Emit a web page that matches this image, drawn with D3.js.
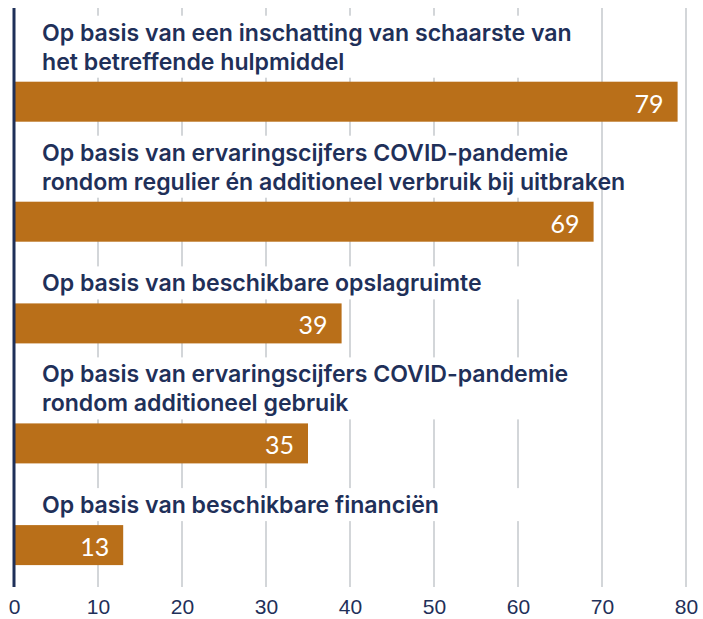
<!DOCTYPE html>
<html>
<head>
<meta charset="utf-8">
<script src="https://cdn.jsdelivr.net/npm/d3@7"></script>
<style>
  body { margin: 0; background: #fff; }
</style>
</head>
<body>
<div id="content"></div>
<script>
// Set up canvas
var width = 703, height = 619;

var categories = ["schaarste", "regulier", "opslag", "additioneel", "financien"];
var labels = [
  ["Op basis van een inschatting van schaarste van", "het betreffende hulpmiddel"],
  ["Op basis van ervaringscijfers COVID-pandemie", "rondom regulier én additioneel verbruik bij uitbraken"],
  ["Op basis van beschikbare opslagruimte"],
  ["Op basis van ervaringscijfers COVID-pandemie", "rondom additioneel gebruik"],
  ["Op basis van beschikbare financiën"]
];
var values = [79, 69, 39, 35, 13];
var tickValues = [0, 10, 20, 30, 40, 50, 60, 70, 80];

var navy = "#1f3059", orange = "#b96f19", grid = "#c4c8cd";
var barH = 40, lineH = 29;
var labelFont = "Inter, 'Liberation Sans', sans-serif";

var svg = d3.select("#content")
    .append("svg")
    .attr("width", width)
    .attr("height", height)
    .style("display", "block");

var x = d3.scaleLinear()
    .domain([0, 80])
    .range([14, 686]);

// bar tops: each group gets room for its label lines above the bar
var tops = [], prev = 1.7;
labels.forEach(function(l) {
  var t = prev + (l.length == 2 ? 80 : 61.7);
  tops.push(t);
  prev = t + barH;
});
var y = d3.scaleOrdinal().domain(categories).range(tops);

// size the label font so the first line is as wide as in the original (~530px)
var probe = svg.append("text")
  .style("font-family", labelFont)
  .style("font-weight", 600)
  .style("font-size", "20px")
  .text(labels[0][0]);
var fontSize = Math.min(24, 20 * 530 / probe.node().getComputedTextLength());
probe.remove();

// gridlines
svg.append("g")
  .selectAll("line")
  .data(tickValues.slice(1))
  .join("line")
    .attr("x1", d => x(d)).attr("x2", d => x(d))
    .attr("y1", 8).attr("y2", 587)
    .attr("stroke", grid)
    .attr("stroke-width", 1.5);

var groups = svg.append("g")
  .selectAll("g")
  .data(categories)
  .join("g");

// white box behind the labels hides the gridlines
groups.append("rect")
  .attr("x", 16)
  .attr("width", 572)
  .attr("y", (d, i) => y(d) - 12 - (labels[i].length - 1) * lineH - 25)
  .attr("height", (d, i) => 25 + (labels[i].length - 1) * lineH + 8)
  .attr("fill", "#fff");

groups.append("text")
  .attr("x", 42)
  .attr("fill", navy)
  .style("font-family", labelFont)
  .style("font-weight", 600)
  .style("font-size", fontSize + "px")
  .selectAll("tspan")
  .data((d, i) => labels[i].map(function(s, j) {
    return {s: s, yy: y(d) - 12 - (labels[i].length - 1 - j) * lineH};
  }))
  .join("tspan")
    .attr("x", 42)
    .attr("y", t => t.yy)
    .text(t => t.s);

groups.append("rect")
  .attr("x", x(0))
  .attr("y", d => y(d))
  .attr("width", (d, i) => x(values[i]) - x(0))
  .attr("height", barH)
  .attr("fill", orange);

groups.append("text")
  .attr("x", (d, i) => x(values[i]) - 14)
  .attr("y", d => y(d) + barH / 2 + 1)
  .attr("dominant-baseline", "central")
  .attr("text-anchor", "end")
  .attr("fill", "#fff")
  .style("font-family", "Lato, sans-serif")
  .style("font-size", "25px")
  .text((d, i) => values[i]);

// left axis line
svg.append("line")
  .attr("x1", x(0)).attr("x2", x(0))
  .attr("y1", 8).attr("y2", 587)
  .attr("stroke", navy)
  .attr("stroke-width", 3);

// x axis labels
var xAxis = svg.append("g")
  .attr("transform", "translate(0,614)")
  .call(d3.axisBottom(x).tickValues(tickValues).tickSize(0).tickPadding(0));
xAxis.select(".domain").remove();
xAxis.selectAll("text")
  .attr("y", 0)
  .attr("dy", null)
  .attr("fill", navy)
  .style("font-family", "'Liberation Sans', Arial, sans-serif")
  .style("font-size", "21px");
</script>
</body>
</html>
